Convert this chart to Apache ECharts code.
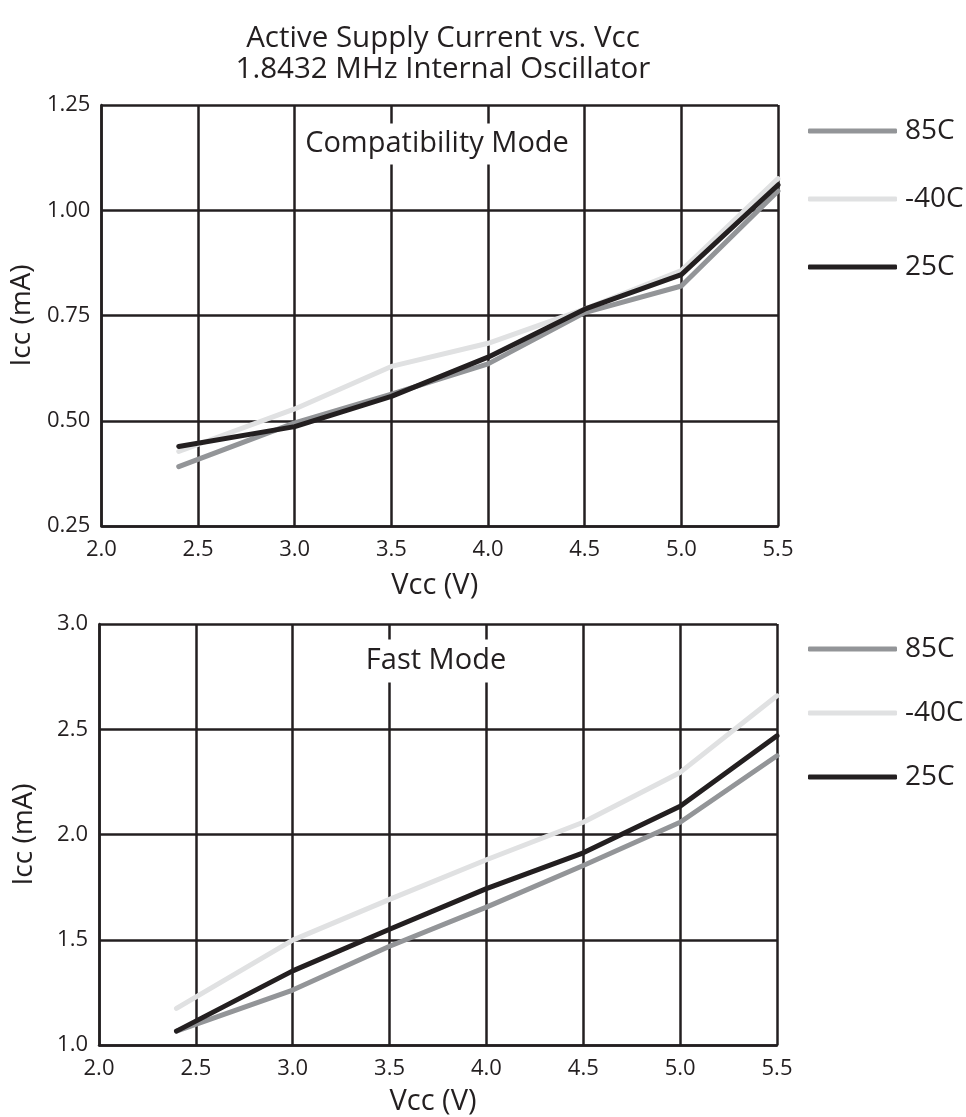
<!DOCTYPE html>
<html><head><meta charset="utf-8">
<script src="https://cdn.jsdelivr.net/npm/echarts@6/dist/echarts.min.js"></script>
<style>html,body{margin:0;padding:0;background:#fff}#c{width:966px;height:1117px}</style>
</head><body><div id="c"></div>
<script>
const vcc = [2.4, 3.0, 3.5, 4.0, 4.5, 5.0, 5.5];
const seriesNames = ['85C', '-40C', '25C'];
const compat85 = [0.391, 0.495, 0.563, 0.635, 0.757, 0.820, 1.046];
const compatM40 = [0.427, 0.528, 0.629, 0.684, 0.765, 0.857, 1.075];
const compat25 = [0.439, 0.486, 0.558, 0.651, 0.765, 0.847, 1.060];
const fast85 = [1.066, 1.261, 1.469, 1.655, 1.853, 2.058, 2.374];
const fastM40 = [1.174, 1.498, 1.692, 1.880, 2.058, 2.295, 2.659];
const fast25 = [1.066, 1.352, 1.550, 1.743, 1.913, 2.134, 2.469];
const xRange = [2.0, 5.5, 0.5];
const compatRange = [0.25, 1.25, 0.25];
const fastRange = [1.0, 3.0, 0.5];
const titleLines = ['Active Supply Current vs. Vcc', '1.8432 MHz Internal Oscillator'];
const panelLabels = ['Compatibility Mode', 'Fast Mode'];
const xName = 'Vcc (V)';
const yName = 'Icc (mA)';

const INK = '#231f20';
const colors = {'85C': '#939598', '-40C': '#e0e1e2', '25C': INK};
const zOrder = {'85C': 3, '-40C': 2, '25C': 4};
const FONT = '"Open Sans", "Noto Sans", sans-serif';

function pairs(vals) { return vcc.map((v, i) => [v, vals[i]]); }

function xAxisFor(gi) {
  return {
    type: 'value', gridIndex: gi, min: xRange[0], max: xRange[1], interval: xRange[2],
    name: xName, nameLocation: 'middle', nameGap: gi === 0 ? 45 : 42,
    nameTextStyle: {color: INK, fontSize: 29, fontFamily: FONT, padding: [0, 10, 0, 0]},
    axisLine: {show: true, lineStyle: {color: INK, width: 2.5}},
    axisTick: {show: false},
    axisLabel: {color: INK, fontSize: 22, fontFamily: FONT, margin: 13,
      formatter: v => v.toFixed(1)},
    splitLine: {show: true, lineStyle: {color: INK, width: 2.5}}
  };
}
function yAxisFor(gi, r, dec) {
  return {
    type: 'value', gridIndex: gi, min: r[0], max: r[1], interval: r[2],
    name: yName, nameLocation: 'middle', nameGap: 61,
    nameTextStyle: {color: INK, fontSize: 28, fontFamily: FONT},
    axisLine: {show: true, lineStyle: {color: INK, width: 2.5}},
    axisTick: {show: false},
    axisLabel: {color: INK, fontSize: 22, fontFamily: FONT, margin: 11,
      padding: [11, 0, 0, 0], formatter: v => v.toFixed(dec)},
    splitLine: {show: true, lineStyle: {color: INK, width: 2.5}}
  };
}
function lineSeries(name, gi, vals) {
  return {
    name: name, type: 'line', xAxisIndex: gi, yAxisIndex: gi,
    data: pairs(vals), showSymbol: false, symbol: 'none', smooth: false,
    color: colors[name], z: zOrder[name],
    lineStyle: {color: colors[name], width: 5, cap: 'round', join: 'round'},
    emphasis: {disabled: true}, animation: false
  };
}
function legendFor(top, gap) {
  return {
    orient: 'vertical', left: 803, top: top, itemWidth: 89, itemHeight: 5,
    itemGap: gap, icon: 'roundRect', data: seriesNames,
    textStyle: {color: INK, fontSize: 28, fontFamily: FONT, lineHeight: 30, padding: [0, 0, 0, 3]},
    selectedMode: false
  };
}

const chart = echarts.init(document.getElementById('c'), null, {renderer: 'canvas'});
chart.setOption({
  backgroundColor: '#fff',
  animation: false,
  title: {
    text: titleLines.join('\n'), left: 438, top: 18, textAlign: 'center',
    textStyle: {color: INK, fontSize: 29.5, fontWeight: 'normal', fontFamily: FONT, lineHeight: 31}
  },
  grid: [
    {left: 100, top: 105, width: 678, height: 421},
    {left: 99, top: 624, width: 678, height: 421}
  ],
  xAxis: [xAxisFor(0), xAxisFor(1)],
  yAxis: [yAxisFor(0, compatRange, 2), yAxisFor(1, fastRange, 1)],
  legend: [legendFor(111, 38), legendFor(629, 34)],
  series: [
    lineSeries('-40C', 0, compatM40),
    lineSeries('85C', 0, compat85),
    lineSeries('25C', 0, compat25),
    lineSeries('-40C', 1, fastM40),
    lineSeries('85C', 1, fast85),
    lineSeries('25C', 1, fast25)
  ],
  graphic: [
    {type: 'text', z: 100, x: 437, y: 144, style: {text: panelLabels[0], align: 'center', verticalAlign: 'middle',
      fontSize: 29, fontFamily: FONT, fill: INK, backgroundColor: '#fff', padding: [6, 6, 6, 6]}},
    {type: 'text', z: 100, x: 436, y: 661, style: {text: panelLabels[1], align: 'center', verticalAlign: 'middle',
      fontSize: 29, fontFamily: FONT, fill: INK, backgroundColor: '#fff', padding: [7, 6, 7, 6]}}
  ]
});
</script></body></html>
